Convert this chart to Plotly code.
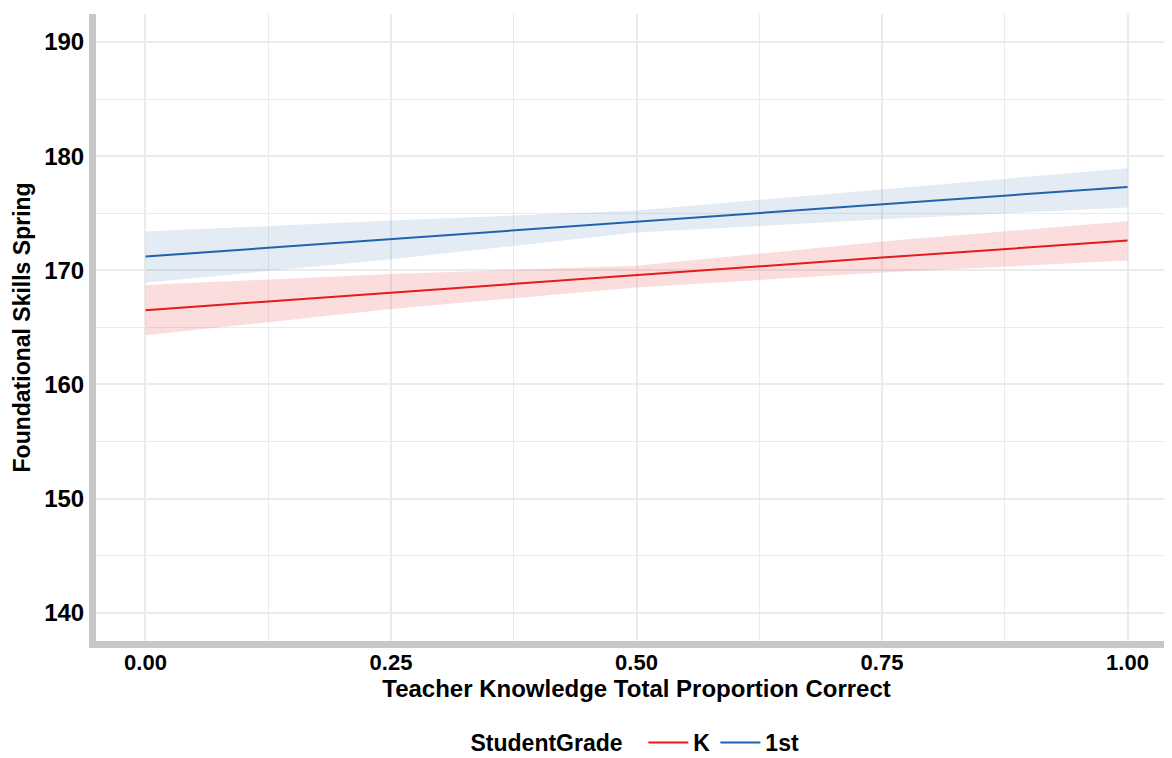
import plotly.graph_objects as go

x_vals = [0.0, 0.25, 0.5, 0.75, 1.0]

k_fit = [166.5, 168.05, 169.57, 171.11, 172.6]
k_upper = [168.7, 169.68, 170.4, 172.51, 174.3]
k_lower = [164.3, 166.6, 168.5, 169.8, 170.85]

first_fit = [171.2, 172.72, 174.27, 175.79, 177.3]
first_upper = [173.4, 174.35, 175.23, 177.1, 178.94]
first_lower = [168.9, 170.97, 173.3, 174.47, 175.5]

groups = ["K", "1st"]
line_colors = {"K": "#E41A1C", "1st": "#1F63AE"}
ribbon_colors = {"K": "rgba(228,26,28,0.15)", "1st": "rgba(55,110,175,0.14)"}
data = {
    "K": (k_fit, k_upper, k_lower),
    "1st": (first_fit, first_upper, first_lower),
}

x_ticks = [0.0, 0.25, 0.5, 0.75, 1.0]
x_tick_text = ["0.00", "0.25", "0.50", "0.75", "1.00"]
y_ticks = [140, 150, 160, 170, 180, 190]

fig = go.Figure()
for g in groups:
    fit, up, lo = data[g]
    fig.add_trace(go.Scatter(x=x_vals, y=up, mode="lines", line=dict(width=0),
                             showlegend=False, hoverinfo="skip"))
    fig.add_trace(go.Scatter(x=x_vals, y=lo, mode="lines", line=dict(width=0),
                             fill="tonexty", fillcolor=ribbon_colors[g],
                             showlegend=False, hoverinfo="skip"))
for g in groups:
    fit, up, lo = data[g]
    fig.add_trace(go.Scatter(x=x_vals, y=fit, mode="lines", name=g,
                             line=dict(color=line_colors[g], width=2)))

font_family = "Liberation Sans, Arial, sans-serif"
grid_col = "#EBEBEB"

fig.update_layout(
    width=1172, height=758,
    margin=dict(l=88, r=3, t=6, b=124),
    paper_bgcolor="white", plot_bgcolor="white",
    font=dict(family=font_family, color="black"),
    xaxis=dict(
        range=[-0.0504, 1.0504], tickvals=x_ticks, ticktext=x_tick_text,
        showgrid=True, gridcolor=grid_col, gridwidth=1.5,
        minor=dict(tickvals=[0.125, 0.375, 0.625, 0.875], showgrid=True,
                   gridcolor=grid_col, gridwidth=1.2),
        showline=True, linecolor="#C8C8C8", linewidth=7,
        zeroline=False, ticks="", automargin=False,
        tickfont=dict(size=22, family=font_family, color="black", weight="bold"),
        ticklabelstandoff=-4,
        title=dict(text="<b>Teacher Knowledge Total Proportion Correct</b>",
                   font=dict(size=24, family=font_family, color="black"), standoff=0),
    ),
    yaxis=dict(
        range=[137.52, 192.45], tickvals=y_ticks,
        showgrid=True, gridcolor=grid_col, gridwidth=1.5,
        minor=dict(tickvals=[145, 155, 165, 175, 185], showgrid=True,
                   gridcolor=grid_col, gridwidth=1.2),
        showline=True, linecolor="#C8C8C8", linewidth=7,
        zeroline=False, ticks="", automargin=False,
        tickfont=dict(size=24, family=font_family, color="black", weight="bold"),
        ticklabelstandoff=0,
    ),
    annotations=[dict(
        text="<b>Foundational Skills Spring</b>", textangle=-90,
        xref="paper", yref="paper", x=-0.0685, y=0.5,
        xanchor="center", yanchor="middle", showarrow=False,
        font=dict(size=23, family=font_family, color="black"),
    )],
    legend=dict(
        orientation="h", x=0.5, xanchor="center", y=-0.16, yanchor="middle",
        traceorder="normal",
        title=dict(text="<b>StudentGrade</b>  ", font=dict(size=23, family=font_family)),
        font=dict(size=23, family=font_family, color="black", weight="bold"),
        itemwidth=40,
    ),
)

fig.write_html("out.html")
